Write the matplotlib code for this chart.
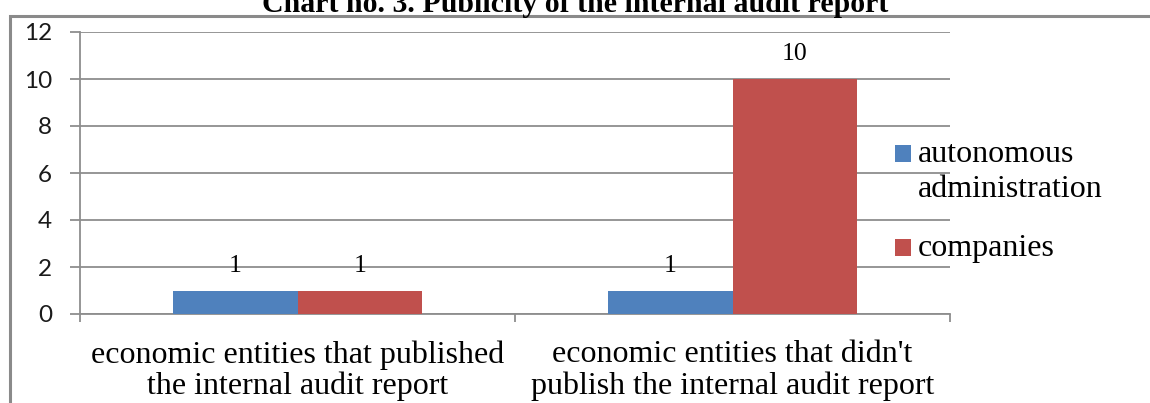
import matplotlib
matplotlib.use("Agg")
import matplotlib.pyplot as plt
from matplotlib.lines import Line2D
from matplotlib.patches import Rectangle
import numpy as np

# Data
categories = ["economic entities that published\nthe internal audit report",
              "economic entities that didn't\npublish the internal audit report"]
series_names = ["autonomous\nadministration", "companies"]
autonomous = [1, 1]
companies = [1, 10]
y_ticks = [0, 2, 4, 6, 8, 10, 12]
title = "Chart no. 3. Publicity of the internal audit report"

BLUE = "#4F81BD"
RED = "#C0504D"
GRID = "#8E8E8E"
SERIF = "Liberation Serif"

W, H, DPI = 1150, 403, 100
fig = plt.figure(figsize=(W / DPI, H / DPI), dpi=DPI)
fig.patch.set_facecolor("white")

def px(x, y):
    """figure fraction from pixel coordinates measured from the top-left"""
    return x / W, 1 - y / H

# plot area
left, right, top, bottom = 80, 950, 32, 314
ax = fig.add_axes([left / W, (H - bottom) / H, (right - left) / W, (bottom - top) / H])

x = np.arange(len(categories))
bw = 1 / 3.5
b1 = ax.bar(x - bw / 2, autonomous, width=bw, color=BLUE, zorder=3)
b2 = ax.bar(x + bw / 2, companies, width=bw, color=RED, zorder=3)
for bars in (b1, b2):
    ax.bar_label(bars, padding=10, fontsize=18.5, family=SERIF, color="black")

ax.set_xlim(-0.5, len(categories) - 0.5)
ax.set_ylim(0, 12)
ax.set_yticks(y_ticks)
ax.set_yticklabels([str(v) for v in y_ticks], family="Lato", fontsize=17.5, color="#1a1a1a")
ax.yaxis.grid(True, color=GRID, linewidth=1.3, zorder=0)
ax.set_axisbelow(True)

ax.set_xticks(x)
ax.set_xticklabels(categories, family=SERIF, fontsize=23, linespacing=1.08)
ax.set_xticks(np.arange(-0.5, len(categories)), minor=True)
ax.tick_params(axis="x", which="major", length=0, pad=19)
ax.tick_params(axis="x", which="minor", length=6, width=1.3, color=GRID, direction="out")
ax.tick_params(axis="y", length=7, width=1.3, color=GRID, direction="out", pad=13)

for side in ("top", "right"):
    ax.spines[side].set_visible(False)
for side in ("left", "bottom"):
    ax.spines[side].set_color(GRID)
    ax.spines[side].set_linewidth(1.3)

# legend
legend_rows = [(series_names[0], BLUE, 162), (series_names[1], RED, 256)]
for label, color, base in legend_rows:
    fx, fy = px(895, base)
    fig.add_artist(Rectangle((fx, fy), 16 / W, 17 / H, transform=fig.transFigure,
                             facecolor=color, edgecolor="none"))
    tx, ty = px(918, base)
    lines = label.split("\n")
    for i, ln in enumerate(lines):
        fig.text(tx, ty - i * 35 / H, ln, family=SERIF, fontsize=23,
                 ha="left", va="baseline", color="black")

# outer frame (left and top edges)
fx0, fy0 = px(10, 16)
fx1, fy1 = px(1160, 420)
fig.add_artist(Line2D([fx0, fx0, fx1], [fy1, fy0, fy0], transform=fig.transFigure,
                      color="#8A8A8A", linewidth=2.2, solid_joinstyle="miter"))

# title
tx, ty = px(575, 12)
fig.text(tx, ty, title, family=SERIF, fontweight="bold", fontsize=21.5,
         ha="center", va="baseline", color="black")

fig.savefig("out.png", dpi=DPI, facecolor="white")
